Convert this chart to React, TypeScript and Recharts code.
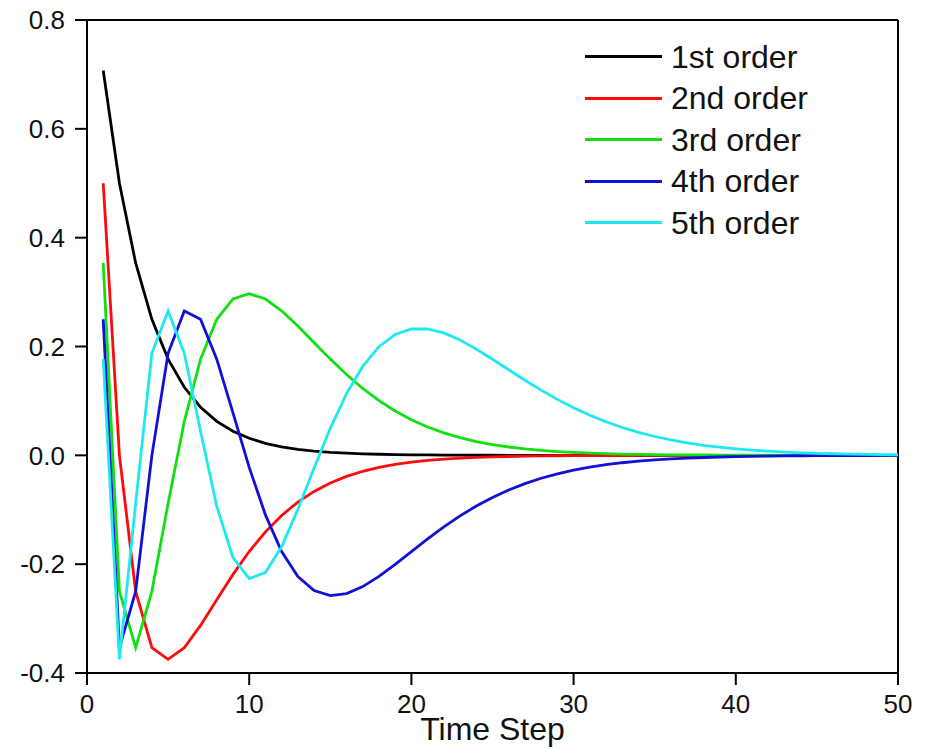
import { CartesianGrid, Line, LineChart, ReferenceLine, XAxis, YAxis } from 'recharts';

// time steps along the x axis
const STEPS = [
  1, 2, 3, 4, 5, 6, 7, 8, 9, 10, 11, 12, 13, 14, 15, 16, 17, 18, 19, 20, 21, 22, 23, 24, 25,
  26, 27, 28, 29, 30, 31, 32, 33, 34, 35, 36, 37, 38, 39, 40, 41, 42, 43, 44, 45, 46, 47, 48, 49, 50,
];

const FIRST_ORDER = [
  0.7071, 0.5, 0.3536, 0.25, 0.1768, 0.125, 0.0884, 0.0625, 0.0442, 0.0313, 0.0221, 0.0156, 0.011,
  0.0078, 0.0055, 0.0039, 0.0028, 0.002, 0.0014, 0.001, 0.0007, 0.0005, 0.0003, 0.0002, 0.0002,
  0.0001, 0.0001, 0.0001, 0, 0, 0, 0, 0, 0, 0, 0, 0, 0, 0, 0, 0, 0, 0, 0, 0, 0, 0, 0, 0, 0,
];

const SECOND_ORDER = [
  0.5, 0, -0.25, -0.3536, -0.375, -0.3536, -0.3125, -0.2652, -0.2188, -0.1768, -0.1406, -0.1105,
  -0.0859, -0.0663, -0.0508, -0.0387, -0.0293, -0.0221, -0.0166, -0.0124, -0.0093, -0.0069, -0.0051,
  -0.0038, -0.0028, -0.0021, -0.0015, -0.0011, -0.0008, -0.0006, -0.0004, -0.0003, -0.0002, -0.0002,
  -0.0001, -0.0001, -0.0001, 0, 0, 0, 0, 0, 0, 0, 0, 0, 0, 0, 0, 0,
];

const THIRD_ORDER = [
  0.3536, -0.25, -0.3536, -0.25, -0.0884, 0.0625, 0.1768, 0.25, 0.2873, 0.2969, 0.2873, 0.2656,
  0.2375, 0.207, 0.1768, 0.1484, 0.1229, 0.1006, 0.0815, 0.0654, 0.0521, 0.0413, 0.0325, 0.0254,
  0.0198, 0.0153, 0.0118, 0.0091, 0.007, 0.0053, 0.0041, 0.0031, 0.0023, 0.0018, 0.0013, 0.001,
  0.0008, 0.0006, 0.0004, 0.0003, 0.0002, 0.0002, 0.0001, 0.0001, 0.0001, 0.0001, 0, 0, 0, 0,
];

const FOURTH_ORDER = [
  0.25, -0.3536, -0.25, 0, 0.1875, 0.2652, 0.25, 0.1768, 0.0781, -0.0221, -0.1094, -0.1768, -0.2227,
  -0.2486, -0.2578, -0.2541, -0.2412, -0.2224, -0.2002, -0.1768, -0.1536, -0.1315, -0.1113, -0.0932,
  -0.0773, -0.0636, -0.0519, -0.0421, -0.034, -0.0272, -0.0217, -0.0172, -0.0136, -0.0107, -0.0084,
  -0.0066, -0.0051, -0.004, -0.0031, -0.0024, -0.0018, -0.0014, -0.0011, -0.0008, -0.0006, -0.0005,
  -0.0004, -0.0003, -0.0002, -0.0002,
];

const FIFTH_ORDER = [
  0.1768, -0.375, -0.0884, 0.1875, 0.2652, 0.1875, 0.0442, -0.0938, -0.1878, -0.2266, -0.2154,
  -0.168, -0.0994, -0.0234, 0.0497, 0.1133, 0.1637, 0.1997, 0.222, 0.2322, 0.2324, 0.2249, 0.2118,
  0.1952, 0.1766, 0.1572, 0.138, 0.1198, 0.1028, 0.0874, 0.0737, 0.0616, 0.0512, 0.0422, 0.0346,
  0.0282, 0.0229, 0.0185, 0.0149, 0.0119, 0.0095, 0.0076, 0.006, 0.0047, 0.0037, 0.0029, 0.0023,
  0.0018, 0.0014, 0.0011,
];

const X_TICKS = [0, 10, 20, 30, 40, 50];
const Y_TICKS = [-0.4, -0.2, 0, 0.2, 0.4, 0.6, 0.8];

const SERIES = [
  { key: 'o1', name: '1st order', color: '#000000', values: FIRST_ORDER },
  { key: 'o2', name: '2nd order', color: '#ff0a0a', values: SECOND_ORDER },
  { key: 'o3', name: '3rd order', color: '#10e010', values: THIRD_ORDER },
  { key: 'o4', name: '4th order', color: '#1010d8', values: FOURTH_ORDER },
  { key: 'o5', name: '5th order', color: '#1ee8f0', values: FIFTH_ORDER },
];

const FONT = '"Liberation Sans", Arial, sans-serif';
const TEXT = '#111';

const chartData = STEPS.map((step, i) => {
  const row: Record<string, number> = { step };
  SERIES.forEach((s) => {
    row[s.key] = s.values[i];
  });
  return row;
});

function LegendBox() {
  return (
    <div style={{ position: 'absolute', left: 585, top: 36, fontFamily: FONT }}>
      {SERIES.map((s) => (
        <div key={s.key} style={{ display: 'flex', alignItems: 'center', height: 41.5 }}>
          <div style={{ width: 77, height: 3, background: s.color }} />
          <span style={{ marginLeft: 9, fontSize: 32, color: TEXT, lineHeight: 1 }}>{s.name}</span>
        </div>
      ))}
    </div>
  );
}

export default function App() {
  const axisStyle = { stroke: '#000', strokeWidth: 2 };
  const tickStyle = { fontSize: 26, fill: TEXT, fontFamily: FONT };

  return (
    <div style={{ position: 'absolute', left: 0, top: 0, width: 930, height: 756, background: '#fff' }}>
      <LineChart width={930} height={756} data={chartData} margin={{ top: 20, right: 32, left: 0, bottom: 0 }}>
        <CartesianGrid stroke="none" />
        <XAxis
          dataKey="step"
          type="number"
          domain={[0, 50]}
          ticks={X_TICKS}
          height={83}
          tickSize={12}
          tickMargin={10}
          axisLine={axisStyle}
          tickLine={axisStyle}
          tick={tickStyle}
          label={{
            value: 'Time Step',
            position: 'insideBottom',
            offset: 16,
            style: { fontSize: 32, fill: TEXT, fontFamily: FONT },
          }}
        />
        <YAxis
          type="number"
          domain={[-0.4, 0.8]}
          ticks={Y_TICKS}
          width={87}
          tickSize={12}
          tickMargin={10}
          axisLine={axisStyle}
          tickLine={axisStyle}
          tick={tickStyle}
          tickFormatter={(v: number) => v.toFixed(1)}
        />
        <ReferenceLine y={0.8} stroke="#000" strokeWidth={2} />
        <ReferenceLine x={50} stroke="#000" strokeWidth={2} />
        {SERIES.map((s) => (
          <Line
            key={s.key}
            type="linear"
            dataKey={s.key}
            name={s.name}
            stroke={s.color}
            strokeWidth={2.8}
            dot={false}
            isAnimationActive={false}
          />
        ))}
      </LineChart>
      <LegendBox />
    </div>
  );
}
